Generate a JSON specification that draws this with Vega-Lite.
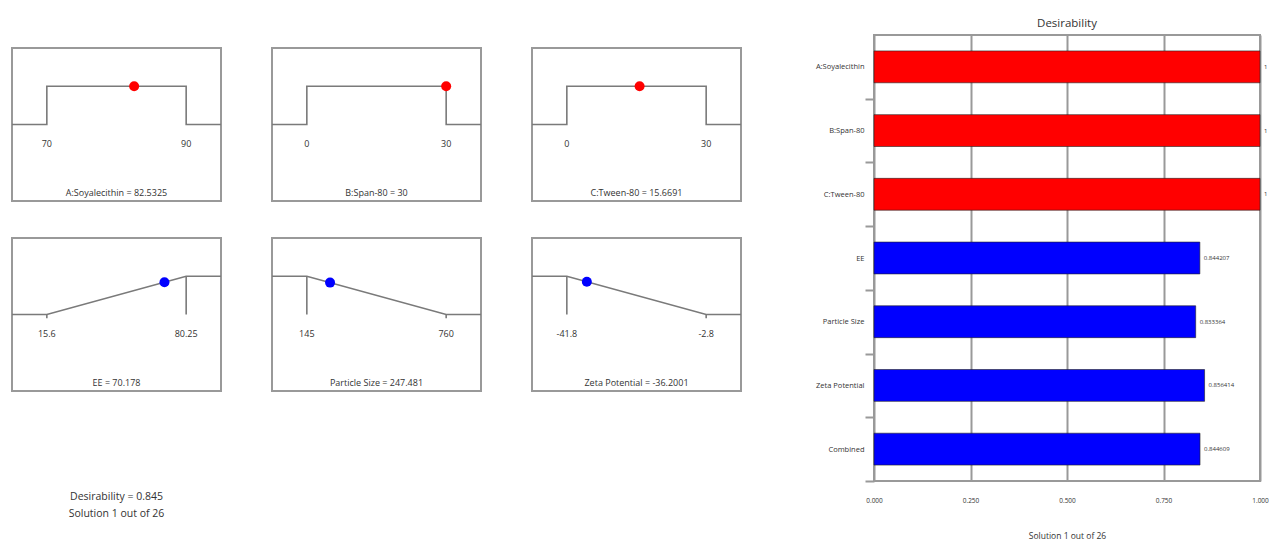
{
  "$schema": "https://vega.github.io/schema/vega-lite/v6.json",
  "padding": {"left": 7, "top": 16, "right": 0, "bottom": 0},
  "config": {
    "font": "Open Sans",
    "view": {"stroke": "#999999", "strokeWidth": 2},
    "axis": {"labelColor": "#333333", "titleColor": "#333333"},
    "title": {"color": "#333333", "fontWeight": "normal"},
    "text": {"color": "#333333"},
    "line": {"color": "#7a7a7a", "strokeWidth": 1.6},
    "rule": {"color": "#7a7a7a", "strokeWidth": 1.6}
  },
  "datasets": {
    "panels": [
      {"panel": "A:Soyalecithin", "kind": "curve", "seq": 1, "x": 65, "d": 0},
      {"panel": "A:Soyalecithin", "kind": "curve", "seq": 2, "x": 70, "d": 0},
      {"panel": "A:Soyalecithin", "kind": "curve", "seq": 3, "x": 70, "d": 1},
      {"panel": "A:Soyalecithin", "kind": "curve", "seq": 4, "x": 90, "d": 1},
      {"panel": "A:Soyalecithin", "kind": "curve", "seq": 5, "x": 90, "d": 0},
      {"panel": "A:Soyalecithin", "kind": "curve", "seq": 6, "x": 95, "d": 0},
      {"panel": "A:Soyalecithin", "kind": "limit", "x": 70, "label": "70"},
      {"panel": "A:Soyalecithin", "kind": "limit", "x": 90, "label": "90"},
      {"panel": "A:Soyalecithin", "kind": "current", "x": 82.5325, "d": 1, "type": "Factor"},
      {"panel": "A:Soyalecithin", "kind": "caption", "x": 80, "label": "A:Soyalecithin = 82.5325"},

      {"panel": "B:Span-80", "kind": "curve", "seq": 1, "x": -7.5, "d": 0},
      {"panel": "B:Span-80", "kind": "curve", "seq": 2, "x": 0, "d": 0},
      {"panel": "B:Span-80", "kind": "curve", "seq": 3, "x": 0, "d": 1},
      {"panel": "B:Span-80", "kind": "curve", "seq": 4, "x": 30, "d": 1},
      {"panel": "B:Span-80", "kind": "curve", "seq": 5, "x": 30, "d": 0},
      {"panel": "B:Span-80", "kind": "curve", "seq": 6, "x": 37.5, "d": 0},
      {"panel": "B:Span-80", "kind": "limit", "x": 0, "label": "0"},
      {"panel": "B:Span-80", "kind": "limit", "x": 30, "label": "30"},
      {"panel": "B:Span-80", "kind": "current", "x": 30, "d": 1, "type": "Factor"},
      {"panel": "B:Span-80", "kind": "caption", "x": 15, "label": "B:Span-80 = 30"},

      {"panel": "C:Tween-80", "kind": "curve", "seq": 1, "x": -7.5, "d": 0},
      {"panel": "C:Tween-80", "kind": "curve", "seq": 2, "x": 0, "d": 0},
      {"panel": "C:Tween-80", "kind": "curve", "seq": 3, "x": 0, "d": 1},
      {"panel": "C:Tween-80", "kind": "curve", "seq": 4, "x": 30, "d": 1},
      {"panel": "C:Tween-80", "kind": "curve", "seq": 5, "x": 30, "d": 0},
      {"panel": "C:Tween-80", "kind": "curve", "seq": 6, "x": 37.5, "d": 0},
      {"panel": "C:Tween-80", "kind": "limit", "x": 0, "label": "0"},
      {"panel": "C:Tween-80", "kind": "limit", "x": 30, "label": "30"},
      {"panel": "C:Tween-80", "kind": "current", "x": 15.6691, "d": 1, "type": "Factor"},
      {"panel": "C:Tween-80", "kind": "caption", "x": 15, "label": "C:Tween-80 = 15.6691"},

      {"panel": "EE", "kind": "curve", "seq": 1, "x": -0.5625, "d": 0},
      {"panel": "EE", "kind": "curve", "seq": 2, "x": 15.6, "d": 0},
      {"panel": "EE", "kind": "curve", "seq": 3, "x": 80.25, "d": 1},
      {"panel": "EE", "kind": "curve", "seq": 4, "x": 96.4125, "d": 1},
      {"panel": "EE", "kind": "tick", "x": 15.6, "d": 0, "d2": -0.1},
      {"panel": "EE", "kind": "tick", "x": 80.25, "d": 1, "d2": 0},
      {"panel": "EE", "kind": "limit", "x": 15.6, "label": "15.6"},
      {"panel": "EE", "kind": "limit", "x": 80.25, "label": "80.25"},
      {"panel": "EE", "kind": "current", "x": 70.178, "d": 0.844207, "type": "Response"},
      {"panel": "EE", "kind": "caption", "x": 47.925, "label": "EE = 70.178"},

      {"panel": "Particle Size", "kind": "curve", "seq": 1, "x": -8.75, "d": 1},
      {"panel": "Particle Size", "kind": "curve", "seq": 2, "x": 145, "d": 1},
      {"panel": "Particle Size", "kind": "curve", "seq": 3, "x": 760, "d": 0},
      {"panel": "Particle Size", "kind": "curve", "seq": 4, "x": 913.75, "d": 0},
      {"panel": "Particle Size", "kind": "tick", "x": 145, "d": 1, "d2": 0},
      {"panel": "Particle Size", "kind": "tick", "x": 760, "d": 0, "d2": -0.1},
      {"panel": "Particle Size", "kind": "limit", "x": 145, "label": "145"},
      {"panel": "Particle Size", "kind": "limit", "x": 760, "label": "760"},
      {"panel": "Particle Size", "kind": "current", "x": 247.481, "d": 0.833364, "type": "Response"},
      {"panel": "Particle Size", "kind": "caption", "x": 452.5, "label": "Particle Size = 247.481"},

      {"panel": "Zeta Potential", "kind": "curve", "seq": 1, "x": -51.55, "d": 1},
      {"panel": "Zeta Potential", "kind": "curve", "seq": 2, "x": -41.8, "d": 1},
      {"panel": "Zeta Potential", "kind": "curve", "seq": 3, "x": -2.8, "d": 0},
      {"panel": "Zeta Potential", "kind": "curve", "seq": 4, "x": 6.95, "d": 0},
      {"panel": "Zeta Potential", "kind": "tick", "x": -41.8, "d": 1, "d2": 0},
      {"panel": "Zeta Potential", "kind": "tick", "x": -2.8, "d": 0, "d2": -0.1},
      {"panel": "Zeta Potential", "kind": "limit", "x": -41.8, "label": "-41.8"},
      {"panel": "Zeta Potential", "kind": "limit", "x": -2.8, "label": "-2.8"},
      {"panel": "Zeta Potential", "kind": "current", "x": -36.2001, "d": 0.856414, "type": "Response"},
      {"panel": "Zeta Potential", "kind": "caption", "x": -22.3, "label": "Zeta Potential = -36.2001"}
    ],
    "bars": [
      {"name": "A:Soyalecithin", "value": 1, "type": "Factor"},
      {"name": "B:Span-80", "value": 1, "type": "Factor"},
      {"name": "C:Tween-80", "value": 1, "type": "Factor"},
      {"name": "EE", "value": 0.844207, "type": "Response"},
      {"name": "Particle Size", "value": 0.833364, "type": "Response"},
      {"name": "Zeta Potential", "value": 0.856414, "type": "Response"},
      {"name": "Combined", "value": 0.844609, "type": "Combined"}
    ],
    "summary": [
      {"text": "Desirability = 0.845\nSolution 1 out of 26"}
    ]
  },
  "spacing": 68,
  "hconcat": [
    {
      "spacing": 85,
      "vconcat": [
        {
          "spacing": 6,
          "vconcat": [
            {
              "data": {"name": "summary"},
              "width": 209,
              "height": 1,
              "view": {"stroke": null},
              "mark": {"type": "text", "opacity": 0},
              "encoding": {"text": {"value": ""}}
            },
            {
              "spacing": 35,
              "vconcat": [
                {
                  "spacing": 41,
                  "resolve": {"scale": {"x": "independent", "y": "independent"}},
                  "hconcat": [
                    {
                      "data": {"name": "panels"},
                      "transform": [{"filter": "datum.panel === 'A:Soyalecithin'"}],
                      "width": 209, "height": 153,
                      "encoding": {"x": {"field": "x", "type": "quantitative", "scale": {"nice": false, "zero": false}, "axis": null}},
                      "layer": [
                        {"transform": [{"filter": "datum.kind === 'curve'"}], "mark": "line", "encoding": {"y": {"field": "d", "type": "quantitative", "scale": {"domain": [-2, 2], "nice": false}, "axis": null}, "order": {"field": "seq", "type": "quantitative"}}},
                        {"transform": [{"filter": "datum.kind === 'limit'"}], "mark": {"type": "text", "fontSize": 9}, "encoding": {"y": {"datum": -0.5, "type": "quantitative"}, "text": {"field": "label"}}},
                        {"transform": [{"filter": "datum.kind === 'caption'"}], "mark": {"type": "text", "fontSize": 9}, "encoding": {"y": {"datum": -1.78, "type": "quantitative"}, "text": {"field": "label"}}},
                        {"transform": [{"filter": "datum.kind === 'current'"}], "mark": {"type": "point", "filled": true, "size": 100, "opacity": 1}, "encoding": {"y": {"field": "d", "type": "quantitative"}, "color": {"field": "type", "type": "nominal", "scale": {"domain": ["Factor", "Response", "Combined"], "range": ["#ff0000", "#0000ff", "#0000ff"]}, "legend": null}}}
                      ]
                    },
                    {
                      "data": {"name": "panels"},
                      "transform": [{"filter": "datum.panel === 'B:Span-80'"}],
                      "width": 209, "height": 153,
                      "encoding": {"x": {"field": "x", "type": "quantitative", "scale": {"nice": false, "zero": false}, "axis": null}},
                      "layer": [
                        {"transform": [{"filter": "datum.kind === 'curve'"}], "mark": "line", "encoding": {"y": {"field": "d", "type": "quantitative", "scale": {"domain": [-2, 2], "nice": false}, "axis": null}, "order": {"field": "seq", "type": "quantitative"}}},
                        {"transform": [{"filter": "datum.kind === 'limit'"}], "mark": {"type": "text", "fontSize": 9}, "encoding": {"y": {"datum": -0.5, "type": "quantitative"}, "text": {"field": "label"}}},
                        {"transform": [{"filter": "datum.kind === 'caption'"}], "mark": {"type": "text", "fontSize": 9}, "encoding": {"y": {"datum": -1.78, "type": "quantitative"}, "text": {"field": "label"}}},
                        {"transform": [{"filter": "datum.kind === 'current'"}], "mark": {"type": "point", "filled": true, "size": 100, "opacity": 1}, "encoding": {"y": {"field": "d", "type": "quantitative"}, "color": {"field": "type", "type": "nominal", "scale": {"domain": ["Factor", "Response", "Combined"], "range": ["#ff0000", "#0000ff", "#0000ff"]}, "legend": null}}}
                      ]
                    },
                    {
                      "data": {"name": "panels"},
                      "transform": [{"filter": "datum.panel === 'C:Tween-80'"}],
                      "width": 209, "height": 153,
                      "encoding": {"x": {"field": "x", "type": "quantitative", "scale": {"nice": false, "zero": false}, "axis": null}},
                      "layer": [
                        {"transform": [{"filter": "datum.kind === 'curve'"}], "mark": "line", "encoding": {"y": {"field": "d", "type": "quantitative", "scale": {"domain": [-2, 2], "nice": false}, "axis": null}, "order": {"field": "seq", "type": "quantitative"}}},
                        {"transform": [{"filter": "datum.kind === 'limit'"}], "mark": {"type": "text", "fontSize": 9}, "encoding": {"y": {"datum": -0.5, "type": "quantitative"}, "text": {"field": "label"}}},
                        {"transform": [{"filter": "datum.kind === 'caption'"}], "mark": {"type": "text", "fontSize": 9}, "encoding": {"y": {"datum": -1.78, "type": "quantitative"}, "text": {"field": "label"}}},
                        {"transform": [{"filter": "datum.kind === 'current'"}], "mark": {"type": "point", "filled": true, "size": 100, "opacity": 1}, "encoding": {"y": {"field": "d", "type": "quantitative"}, "color": {"field": "type", "type": "nominal", "scale": {"domain": ["Factor", "Response", "Combined"], "range": ["#ff0000", "#0000ff", "#0000ff"]}, "legend": null}}}
                      ]
                    }
                  ]
                },
                {
                  "spacing": 41,
                  "resolve": {"scale": {"x": "independent", "y": "independent"}},
                  "hconcat": [
                    {
                      "data": {"name": "panels"},
                      "transform": [{"filter": "datum.panel === 'EE'"}],
                      "width": 209, "height": 153,
                      "encoding": {"x": {"field": "x", "type": "quantitative", "scale": {"nice": false, "zero": false}, "axis": null}},
                      "layer": [
                        {"transform": [{"filter": "datum.kind === 'curve'"}], "mark": "line", "encoding": {"y": {"field": "d", "type": "quantitative", "scale": {"domain": [-2, 2], "nice": false}, "axis": null}, "order": {"field": "seq", "type": "quantitative"}}},
                        {"transform": [{"filter": "datum.kind === 'tick'"}], "mark": "rule", "encoding": {"y": {"field": "d", "type": "quantitative"}, "y2": {"field": "d2"}}},
                        {"transform": [{"filter": "datum.kind === 'limit'"}], "mark": {"type": "text", "fontSize": 9}, "encoding": {"y": {"datum": -0.5, "type": "quantitative"}, "text": {"field": "label"}}},
                        {"transform": [{"filter": "datum.kind === 'caption'"}], "mark": {"type": "text", "fontSize": 9}, "encoding": {"y": {"datum": -1.78, "type": "quantitative"}, "text": {"field": "label"}}},
                        {"transform": [{"filter": "datum.kind === 'current'"}], "mark": {"type": "point", "filled": true, "size": 100, "opacity": 1}, "encoding": {"y": {"field": "d", "type": "quantitative"}, "color": {"field": "type", "type": "nominal", "scale": {"domain": ["Factor", "Response", "Combined"], "range": ["#ff0000", "#0000ff", "#0000ff"]}, "legend": null}}}
                      ]
                    },
                    {
                      "data": {"name": "panels"},
                      "transform": [{"filter": "datum.panel === 'Particle Size'"}],
                      "width": 209, "height": 153,
                      "encoding": {"x": {"field": "x", "type": "quantitative", "scale": {"nice": false, "zero": false}, "axis": null}},
                      "layer": [
                        {"transform": [{"filter": "datum.kind === 'curve'"}], "mark": "line", "encoding": {"y": {"field": "d", "type": "quantitative", "scale": {"domain": [-2, 2], "nice": false}, "axis": null}, "order": {"field": "seq", "type": "quantitative"}}},
                        {"transform": [{"filter": "datum.kind === 'tick'"}], "mark": "rule", "encoding": {"y": {"field": "d", "type": "quantitative"}, "y2": {"field": "d2"}}},
                        {"transform": [{"filter": "datum.kind === 'limit'"}], "mark": {"type": "text", "fontSize": 9}, "encoding": {"y": {"datum": -0.5, "type": "quantitative"}, "text": {"field": "label"}}},
                        {"transform": [{"filter": "datum.kind === 'caption'"}], "mark": {"type": "text", "fontSize": 9}, "encoding": {"y": {"datum": -1.78, "type": "quantitative"}, "text": {"field": "label"}}},
                        {"transform": [{"filter": "datum.kind === 'current'"}], "mark": {"type": "point", "filled": true, "size": 100, "opacity": 1}, "encoding": {"y": {"field": "d", "type": "quantitative"}, "color": {"field": "type", "type": "nominal", "scale": {"domain": ["Factor", "Response", "Combined"], "range": ["#ff0000", "#0000ff", "#0000ff"]}, "legend": null}}}
                      ]
                    },
                    {
                      "data": {"name": "panels"},
                      "transform": [{"filter": "datum.panel === 'Zeta Potential'"}],
                      "width": 209, "height": 153,
                      "encoding": {"x": {"field": "x", "type": "quantitative", "scale": {"nice": false, "zero": false}, "axis": null}},
                      "layer": [
                        {"transform": [{"filter": "datum.kind === 'curve'"}], "mark": "line", "encoding": {"y": {"field": "d", "type": "quantitative", "scale": {"domain": [-2, 2], "nice": false}, "axis": null}, "order": {"field": "seq", "type": "quantitative"}}},
                        {"transform": [{"filter": "datum.kind === 'tick'"}], "mark": "rule", "encoding": {"y": {"field": "d", "type": "quantitative"}, "y2": {"field": "d2"}}},
                        {"transform": [{"filter": "datum.kind === 'limit'"}], "mark": {"type": "text", "fontSize": 9}, "encoding": {"y": {"datum": -0.5, "type": "quantitative"}, "text": {"field": "label"}}},
                        {"transform": [{"filter": "datum.kind === 'caption'"}], "mark": {"type": "text", "fontSize": 9}, "encoding": {"y": {"datum": -1.78, "type": "quantitative"}, "text": {"field": "label"}}},
                        {"transform": [{"filter": "datum.kind === 'current'"}], "mark": {"type": "point", "filled": true, "size": 100, "opacity": 1}, "encoding": {"y": {"field": "d", "type": "quantitative"}, "color": {"field": "type", "type": "nominal", "scale": {"domain": ["Factor", "Response", "Combined"], "range": ["#ff0000", "#0000ff", "#0000ff"]}, "legend": null}}}
                      ]
                    }
                  ]
                }
              ]
            }
          ]
        },
        {
          "data": {"name": "summary"},
          "width": 209,
          "height": 40,
          "view": {"stroke": null},
          "mark": {"type": "text", "lineBreak": "\n", "fontSize": 10.5, "lineHeight": 17},
          "encoding": {"text": {"field": "text"}}
        }
      ]
    },
    {
      "data": {"name": "bars"},
      "width": 386,
      "height": 446,
      "view": {"stroke": "#999999", "strokeWidth": 2},
      "title": {"text": "Desirability", "fontSize": 11.5, "offset": 6},
      "encoding": {
        "y": {
          "field": "name", "type": "nominal", "sort": null,
          "scale": {"paddingInner": 0.5, "paddingOuter": 0.25},
          "axis": {"title": null, "domain": false, "tickOffset": 31.86, "labelOffset": -31.86, "tickSize": 9, "tickColor": "#999999", "tickWidth": 2, "labelFontSize": 7.5, "labelPadding": 1}
        },
        "x": {
          "field": "value", "type": "quantitative",
          "scale": {"domain": [0, 1], "nice": false},
          "axis": {"values": [0, 0.25, 0.5, 0.75, 1], "format": ".3f", "grid": true, "gridColor": "#999999", "gridWidth": 2, "ticks": false, "domain": false, "labelFlush": false, "labelFontSize": 6.5, "labelPadding": 16, "title": "Solution 1 out of 26", "titleFontSize": 8.5, "titleFontWeight": "normal", "titlePadding": 28}
        }
      },
      "layer": [
        {
          "mark": {"type": "bar", "stroke": "#222222", "strokeWidth": 0.6},
          "encoding": {
            "color": {"field": "type", "type": "nominal", "scale": {"domain": ["Factor", "Response", "Combined"], "range": ["#ff0000", "#0000ff", "#0000ff"]}, "legend": null}
          }
        },
        {
          "mark": {"type": "text", "align": "left", "dx": 4, "fontSize": 6},
          "encoding": {"text": {"field": "value", "type": "quantitative", "format": "~g"}}
        }
      ]
    }
  ]
}
